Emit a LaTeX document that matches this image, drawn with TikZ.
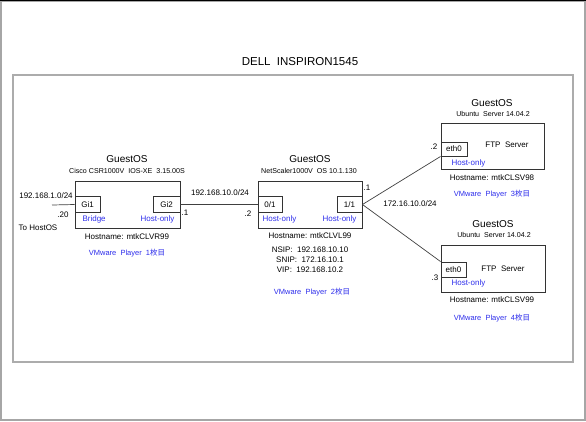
\documentclass[tikz,border=0pt]{standalone}
\usepackage{fontspec}
\setmainfont{Liberation Sans}
\newfontfamily\cjk{Noto Sans CJK JP}
\definecolor{vmblue}{RGB}{45,45,235}

\begin{document}
\begin{tikzpicture}[
    x=1pt, y=-1pt,
    vm box/.style={draw=black!80, line width=0.9pt, minimum width=104pt, minimum height=47pt, inner sep=0pt},
    port/.style={draw=black!80, line width=0.9pt, minimum height=16pt, inner sep=0pt, font=\fontsize{8}{9}\selectfont},
    os label/.style={font=\fontsize{10}{12}\selectfont},
    ver label/.style={font=\fontsize{7.1}{8}\selectfont},
    small label/.style={font=\fontsize{8}{10}\selectfont},
    blue label/.style={text=vmblue, font=\fontsize{8}{10}\selectfont},
    link/.style={draw=black!75, line width=0.7pt},
    ]
  \useasboundingbox (0,0) rectangle (586,421);

  \draw[gray!70, line width=1.2pt] (1,1) rectangle (585,420);
  \draw[black, line width=1pt] (0,0.5) -- (586,0.5);
  \draw[gray!65, line width=1.4pt] (13,75) rectangle (573,362);
  \node[font=\fontsize{11.5}{13}\selectfont] (title) at (300,62) {DELL\ \ INSPIRON1545};

  % VM boxes
  \node[vm box, minimum width=105pt] (csr) at (127.5,204.5) {};
  \node[vm box] (ns) at (310,204.5) {};
  \node[vm box, minimum width=103pt, minimum height=46pt] (ftpa) at (492.5,146) {};
  \node[vm box] (ftpb) at (493,268.5) {};

  \node[port, anchor=west, minimum width=25pt] (gi1) at (csr.west) {Gi1};
  \node[port, anchor=east, minimum width=27pt] (gi2) at (csr.east) {Gi2};
  \node[port, anchor=west, minimum width=24pt] (p01) at (ns.west) {0/1};
  \node[port, anchor=east, minimum width=25pt] (p11) at (ns.east) {1/1};
  \node[port, anchor=west, minimum width=26pt, minimum height=14pt] (etha) at ([yshift=-3pt]ftpa.west) {eth0};
  \node[port, anchor=west, minimum width=25pt, minimum height=15pt] (ethb) at ([yshift=-1pt]ftpb.west) {eth0};

  % Cisco CSR
  \node[os label] (csros) at (127,159) {GuestOS};
  \node[ver label] (csrver) at (127,171) {Cisco CSR1000V\ \ IOS-XE\ \ 3.15.00S};
  \node[blue label, anchor=west] (bridge) at (79,219) {Bridge};
  \node[blue label, anchor=east] (csrho) at (178,219) {Host-only};
  \node[small label] (csrhost) at (127,237) {Hostname: mtkCLVR99};
  \node[blue label, font=\fontsize{7.5}{9}\selectfont] (vm1) at (127,253) {VMware\ \ Player\ \ 1{\cjk 枚目}};

  % NetScaler
  \node[os label] (nsos) at (310,159) {GuestOS};
  \node[ver label] (nsver) at (309,171) {NetScaler1000V\ \ OS 10.1.130};
  \node[blue label, anchor=west] (nsho1) at (259,219) {Host-only};
  \node[blue label, anchor=east] (nsho2) at (360,219) {Host-only};
  \node[small label] (nshost) at (310,236) {Hostname: mtkCLVL99};
  \node[small label, align=center] (nsip) at (310,260) {NSIP:\ \ 192.168.10.10\\SNIP:\ \ 172.16.10.1\\VIP:\ \ 192.168.10.2};
  \node[blue label, font=\fontsize{7.5}{9}\selectfont] (vm2) at (312,292) {VMware\ \ Player\ \ 2{\cjk 枚目}};

  % FTP servers
  \node[os label] (ftpaos) at (492,103) {GuestOS};
  \node[ver label] (ftpaver) at (493,114) {Ubuntu\ \ Server 14.04.2};
  \node[small label] (ftpasrv) at (507,145) {FTP\ \ Server};
  \node[blue label, anchor=west] (ftpaho) at (448,163) {Host-only};
  \node[small label] (ftpahost) at (492,178) {Hostname: mtkCLSV98};
  \node[blue label, font=\fontsize{7.5}{9}\selectfont] (vm3) at (492,194) {VMware\ \ Player\ \ 3{\cjk 枚目}};

  \node[os label] (ftpbos) at (493,224) {GuestOS};
  \node[ver label] (ftpbver) at (494,235) {Ubuntu\ \ Server 14.04.2};
  \node[small label] (ftpbsrv) at (503,269) {FTP\ \ Server};
  \node[blue label, anchor=west] (ftpbho) at (448,283) {Host-only};
  \node[small label] (ftpbhost) at (492,300) {Hostname: mtkCLSV99};
  \node[blue label, font=\fontsize{7.5}{9}\selectfont] (vm4) at (492,318) {VMware\ \ Player\ \ 4{\cjk 枚目}};

  % links and addresses
  \coordinate (hostos) at (52,205);
  \draw[link] (hostos) -- (gi1.west);
  \draw[link] (gi2.east) -- (p01.west);
  \draw[link] (p11.east) -- (etha.south west);
  \draw[link] (p11.east) -- (ethb.north west);

  \node[small label] (net1) at (46,196) {192.168.1.0/24};
  \node[small label] (ip20) at (63,215) {.20};
  \node[small label] (tohost) at (38,228) {To HostOS};
  \node[small label] (net2) at (220,193) {192.168.10.0/24};
  \node[small label] (ip1a) at (185,213) {.1};
  \node[small label] (ip2a) at (248,214) {.2};
  \node[small label] (net3) at (410,204) {172.16.10.0/24};
  \node[small label] (ip1b) at (367,188) {.1};
  \node[small label] (ip2b) at (434,147) {.2};
  \node[small label] (ip3) at (435,278) {.3};
\end{tikzpicture}
\end{document}
